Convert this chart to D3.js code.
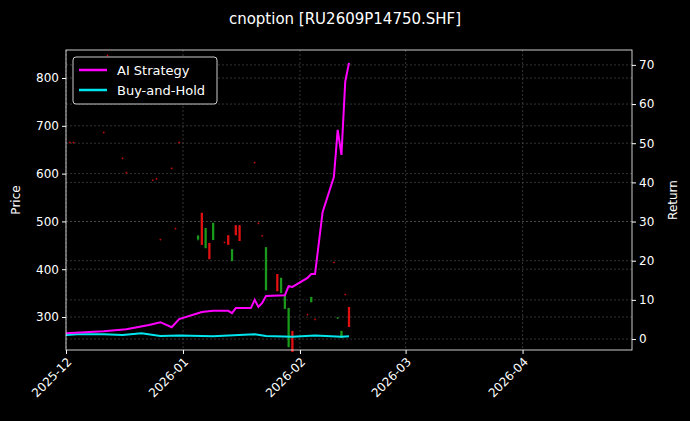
<!DOCTYPE html><html><head><meta charset="utf-8"><script src="https://cdn.jsdelivr.net/npm/d3@7"></script>
<style>body{margin:0;background:#000}text{font-family:"DejaVu Sans",sans-serif;fill:#fff}</style></head><body><svg id="c" width="690" height="421"></svg>
<script>
const candleDates=["2025-12-02","2025-12-03","2025-12-11","2025-12-12","2025-12-16","2025-12-17","2025-12-24","2025-12-25","2025-12-26","2025-12-29","2025-12-30","2025-12-31","2026-01-05","2026-01-06","2026-01-07","2026-01-08","2026-01-09","2026-01-12","2026-01-13","2026-01-14","2026-01-15","2026-01-16","2026-01-20","2026-01-21","2026-01-22","2026-01-23","2026-01-26","2026-01-27","2026-01-28","2026-01-29","2026-01-30","2026-02-03","2026-02-04","2026-02-05","2026-02-10","2026-02-11","2026-02-12","2026-02-13","2026-02-14"];
const candleOpen =[666,666,687,848,633,603,587,590,463,612,486,666,462,518,444,455,461,457,471,417,492,492,624,497,471,356,390,350,317,237,271,306,331,296,415,296,256,348,321];
const candleClose=[664,664,685,846,631,601,585,588,461,610,484,664,470,451,486,421,497,455,451,442,471,459,622,495,469,446,354,382,346,319,227,304,342,294,413,300,271,346,279];
const candleHigh =[667,667,688,849,634,604,588,591,464,613,487,667,472,518,486,455,497,458,471,442,492,492,625,498,472,446,390,382,346,319,271,307,342,297,416,300,271,349,321];
const candleLow  =[663,663,684,845,630,600,584,587,460,609,483,663,460,451,444,421,461,454,451,417,471,459,621,494,468,356,354,350,317,237,227,303,331,293,412,296,256,345,279];
const aiDates=["2025-12-01","2025-12-11","2025-12-17","2025-12-23","2025-12-26","2025-12-29","2025-12-31","2026-01-06","2026-01-09","2026-01-13","2026-01-14","2026-01-15","2026-01-19","2026-01-20","2026-01-21","2026-01-22","2026-01-23","2026-01-28","2026-01-29","2026-01-30","2026-02-03","2026-02-04","2026-02-05","2026-02-07","2026-02-10","2026-02-11","2026-02-12","2026-02-13","2026-02-14"];
const aiReturn=[1.5,2,2.5,3.6,4.3,3,5.1,6.9,7.2,7.2,6.6,7.9,7.9,10,8.2,9.2,11,11.2,13.5,13.3,15.6,16.6,16.6,32.4,41.4,53.4,47,65.7,70.5];
const bhDates=["2025-12-01","2025-12-04","2025-12-11","2025-12-16","2025-12-21","2025-12-26","2025-12-31","2026-01-09","2026-01-20","2026-01-23","2026-01-30","2026-02-05","2026-02-12","2026-02-14"];
const bhReturn=[1.0,1.2,1.2,1.0,1.5,0.8,0.9,0.7,1.2,0.8,0.6,0.9,0.6,0.7];
const xTicks=["2025-12-01","2026-01-01","2026-02-01","2026-03-01","2026-04-01"];
const pt=d3.utcParse("%Y-%m-%d");
const svg=d3.select("#c");
const L=66,R=632,T=50,B=350;
svg.append("rect").attr("width",690).attr("height",421).attr("fill","#000");
const x=d3.scaleUtc().domain([pt("2025-12-01"),pt("2026-04-30")]).range([L,R]);
const yP=d3.scaleLinear().domain([231,858.6]).range([B,T]);
const yR=d3.scaleLinear().domain([-2.8,73.8]).range([B,T]);
const g=svg.append("g");
g.selectAll(".gx").data(xTicks).join("line").attr("x1",d=>x(pt(d))).attr("x2",d=>x(pt(d))).attr("y1",T).attr("y2",B).attr("stroke","#555").attr("stroke-dasharray","2,2").attr("stroke-width",0.6);
g.selectAll(".gy").data(yP.ticks(6)).join("line").attr("x1",L).attr("x2",R).attr("y1",d=>yP(d)).attr("y2",d=>yP(d)).attr("stroke","#555").attr("stroke-dasharray","2,2").attr("stroke-width",0.6);
g.selectAll(".gr").data(yR.ticks(8)).join("line").attr("x1",L).attr("x2",R).attr("y1",d=>yR(d)).attr("y2",d=>yR(d)).attr("stroke","#555").attr("stroke-dasharray","2,2").attr("stroke-width",0.6);
const cd=candleDates.map((d,i)=>({t:pt(d),o:candleOpen[i],c:candleClose[i],h:candleHigh[i],l:candleLow[i]}));
const cw=(x(pt("2025-12-02"))-x(pt("2025-12-01")))*0.6;
const cg=g.selectAll(".cd").data(cd).join("g");
cg.append("line").attr("x1",d=>x(d.t)).attr("x2",d=>x(d.t)).attr("y1",d=>yP(d.h)).attr("y2",d=>yP(d.l)).attr("stroke",d=>d.c>=d.o?"#1a9a1a":"#e01010").attr("stroke-width",0.8);
cg.append("rect").attr("x",d=>x(d.t)-cw/2).attr("width",cw).attr("y",d=>yP(Math.max(d.o,d.c))).attr("height",d=>Math.max(1,Math.abs(yP(d.o)-yP(d.c)))).attr("fill",d=>d.c>=d.o?"#1a9a1a":"#e01010").attr("opacity",d=>Math.abs(d.o-d.c)<5?0.5:1);
const ln=d3.line().x(d=>x(d[0])).y(d=>yR(d[1]));
g.append("path").datum(bhDates.map((d,i)=>[pt(d),bhReturn[i]])).attr("d",ln).attr("fill","none").attr("stroke","#00e5ee").attr("stroke-width",2);
g.append("path").datum(aiDates.map((d,i)=>[pt(d),aiReturn[i]])).attr("d",ln).attr("fill","none").attr("stroke","#ff00ff").attr("stroke-width",2);
svg.append("rect").attr("x",L).attr("y",T).attr("width",R-L).attr("height",B-T).attr("fill","none").attr("stroke","#fff").attr("stroke-width",0.8);
const ax=svg.append("g").attr("transform",`translate(0,${B})`).call(d3.axisBottom(x).tickValues(xTicks.map(pt)).tickFormat(d3.utcFormat("%Y-%m")).tickSize(4));
ax.selectAll("text").attr("transform","rotate(-45)").attr("text-anchor","end").attr("dx","-0.4em").attr("dy","0.5em").style("font-size","12px");
const al=svg.append("g").attr("transform",`translate(${L},0)`).call(d3.axisLeft(yP).ticks(6).tickSize(4));
al.selectAll("text").style("font-size","12px");
const ar=svg.append("g").attr("transform",`translate(${R},0)`).call(d3.axisRight(yR).ticks(8).tickSize(4));
ar.selectAll("text").style("font-size","12px");
svg.selectAll(".domain").remove();
svg.selectAll(".tick line").attr("stroke","#fff");
svg.append("text").attr("x",345).attr("y",24).attr("text-anchor","middle").style("font-size","15px").text("cnoption [RU2609P14750.SHF]");
svg.append("text").attr("transform","translate(20,200) rotate(-90)").attr("text-anchor","middle").style("font-size","12px").text("Price");
svg.append("text").attr("transform","translate(677,200) rotate(-90)").attr("text-anchor","middle").style("font-size","12px").text("Return");
const lg=svg.append("g");
lg.append("rect").attr("x",73).attr("y",57).attr("width",144).attr("height",47).attr("rx",3).attr("fill","#000").attr("stroke","#ccc");
[["AI Strategy","#ff00ff"],["Buy-and-Hold","#00e5ee"]].forEach((s,i)=>{
 lg.append("line").attr("x1",79).attr("x2",107).attr("y1",70+i*20).attr("y2",70+i*20).attr("stroke",s[1]).attr("stroke-width",2.5);
 lg.append("text").attr("x",117).attr("y",74.5+i*20).style("font-size","13px").text(s[0]);
});
</script></body></html>
